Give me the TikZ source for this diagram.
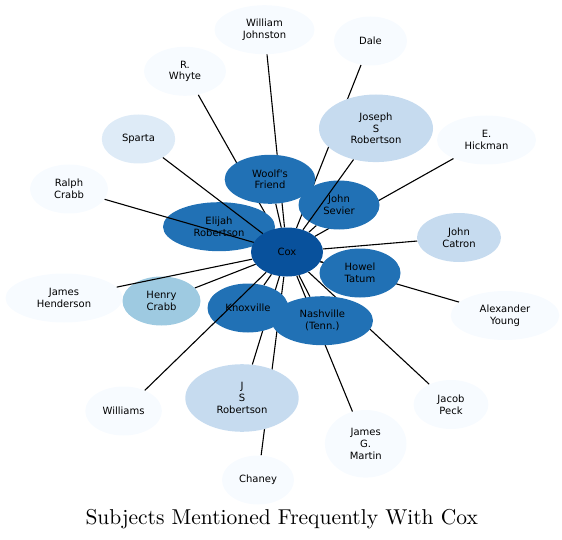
\documentclass[tikz,border=0pt]{standalone}
\usepackage{fontspec}
\usepackage{tikz}
\usetikzlibrary{shapes.geometric}
\newfontfamily\dejavu{DejaVu Sans}
\newfontfamily\titlefont{lmroman10-regular.otf}
\definecolor{blues1}{HTML}{F7FBFF}
\definecolor{blues2}{HTML}{DEEBF7}
\definecolor{blues3}{HTML}{C6DBEF}
\definecolor{blues4}{HTML}{9ECAE1}
\definecolor{blues6}{HTML}{2171B5}
\definecolor{blues7}{HTML}{08519C}
\pgfdeclarelayer{background}
\pgfsetlayers{background,main}

\begin{document}
\begin{tikzpicture}[x=1pt,y=-1pt]
  \tikzstyle{subject}=[ellipse,inner sep=0pt,align=center,text=black,
                       font=\dejavu\fontsize{10}{11.8}\selectfont,
                       minimum width=80pt,minimum height=49pt]
  \tikzstyle{tall}=[minimum height=67.6pt]
  \tikzstyle{every edge}=[draw=black,line width=1.1pt]
  \useasboundingbox (0,0) rectangle (562,540);

  % rarely mentioned
  \node[subject,fill=blues1,minimum width=100pt] (WJ)  at (264.5,29.7) {William\\Johnston};
  \node[subject,fill=blues1,minimum width=73pt]  (DA)  at (370.5,41)   {Dale};
  \node[subject,fill=blues1,minimum width=82pt]  (RW)  at (185,71.3)   {R.\\Whyte};
  \node[subject,fill=blues1,minimum width=99pt]  (EH)  at (486.5,140)  {E.\\Hickman};
  \node[subject,fill=blues1,minimum width=78pt]  (RC)  at (69,189)     {Ralph\\Crabb};
  \node[subject,fill=blues1,minimum width=117pt] (JH)  at (64,298)     {James\\Henderson};
  \node[subject,fill=blues1,minimum width=108.6pt] (AY) at (505,315.5) {Alexander\\Young};
  \node[subject,fill=blues1,minimum width=76.6pt] (WI) at (123.6,411)  {Williams};
  \node[subject,fill=blues1,minimum width=74.8pt] (JP) at (451,404.5)  {Jacob\\Peck};
  \node[subject,fill=blues1,tall,minimum width=81.6pt] (JGM) at (365.7,443.8) {James\\G.\\Martin};
  \node[subject,fill=blues1,minimum width=72pt]  (CH)  at (258,480)    {Chaney};
  \node[subject,fill=blues2,minimum width=73.4pt] (SP) at (138.5,139)  {Sparta};
  \node[subject,fill=blues3,tall,minimum width=114pt] (JoSR) at (376,128.3) {Joseph\\S\\Robertson};
  \node[subject,fill=blues3,minimum width=84pt]  (JC)  at (459,237.5)  {John\\Catron};
  \node[subject,fill=blues3,tall,minimum width=113.4pt] (JSR) at (242,398) {J\\S\\Robertson};
  \node[subject,fill=blues4,minimum width=78pt]  (HC)  at (161.5,301)  {Henry\\Crabb};

  % often mentioned
  \node[subject,fill=blues6,minimum width=90.6pt] (WF) at (270,179.3)  {Woolf's\\Friend};
  \node[subject,fill=blues6,minimum width=81pt]  (JSe) at (339,205)    {John\\Sevier};
  \node[subject,fill=blues6,minimum width=112pt] (ER)  at (219,226.7)  {Elijah\\Robertson};
  \node[subject,fill=blues6,minimum width=81pt]  (HT)  at (360,273)    {Howel\\Tatum};
  \node[subject,fill=blues6,minimum width=81pt]  (KN)  at (248,308)    {Knoxville};
  \node[subject,fill=blues6,minimum width=101.4pt] (NA) at (322.3,320.7) {Nashville\\(Tenn.)};
  \node[subject,fill=blues7,minimum width=72pt]  (Cox) at (287,252)    {Cox};

  \begin{pgfonlayer}{background}
  \path (Cox) edge (WJ)
        (Cox) edge (DA)
        (Cox) edge (RW)
        (Cox) edge (EH)
        (Cox) edge (AY)
        (Cox) edge (JP)
        (Cox) edge (JGM)
        (Cox) edge (CH)
        (Cox) edge (JSR)
        (Cox) edge (JC)
        (Cox) edge (HC)
        (Cox) edge (WF)
        (Cox) edge (JSe)
        (Cox) edge (ER)
        (Cox) edge (HT)
        (Cox) edge (KN)
        (Cox) edge (NA);
  \end{pgfonlayer}
  \path (Cox) edge (RC)
        (Cox) edge (SP)
        (Cox) edge (JoSR)
        (Cox) edge (WI)
        (Cox) edge (JH);

  \node[anchor=base,font=\titlefont\fontsize{21.5}{26}\selectfont] (title) at (281.7,524)
    {Subjects Mentioned Frequently With Cox};
\end{tikzpicture}
\end{document}
